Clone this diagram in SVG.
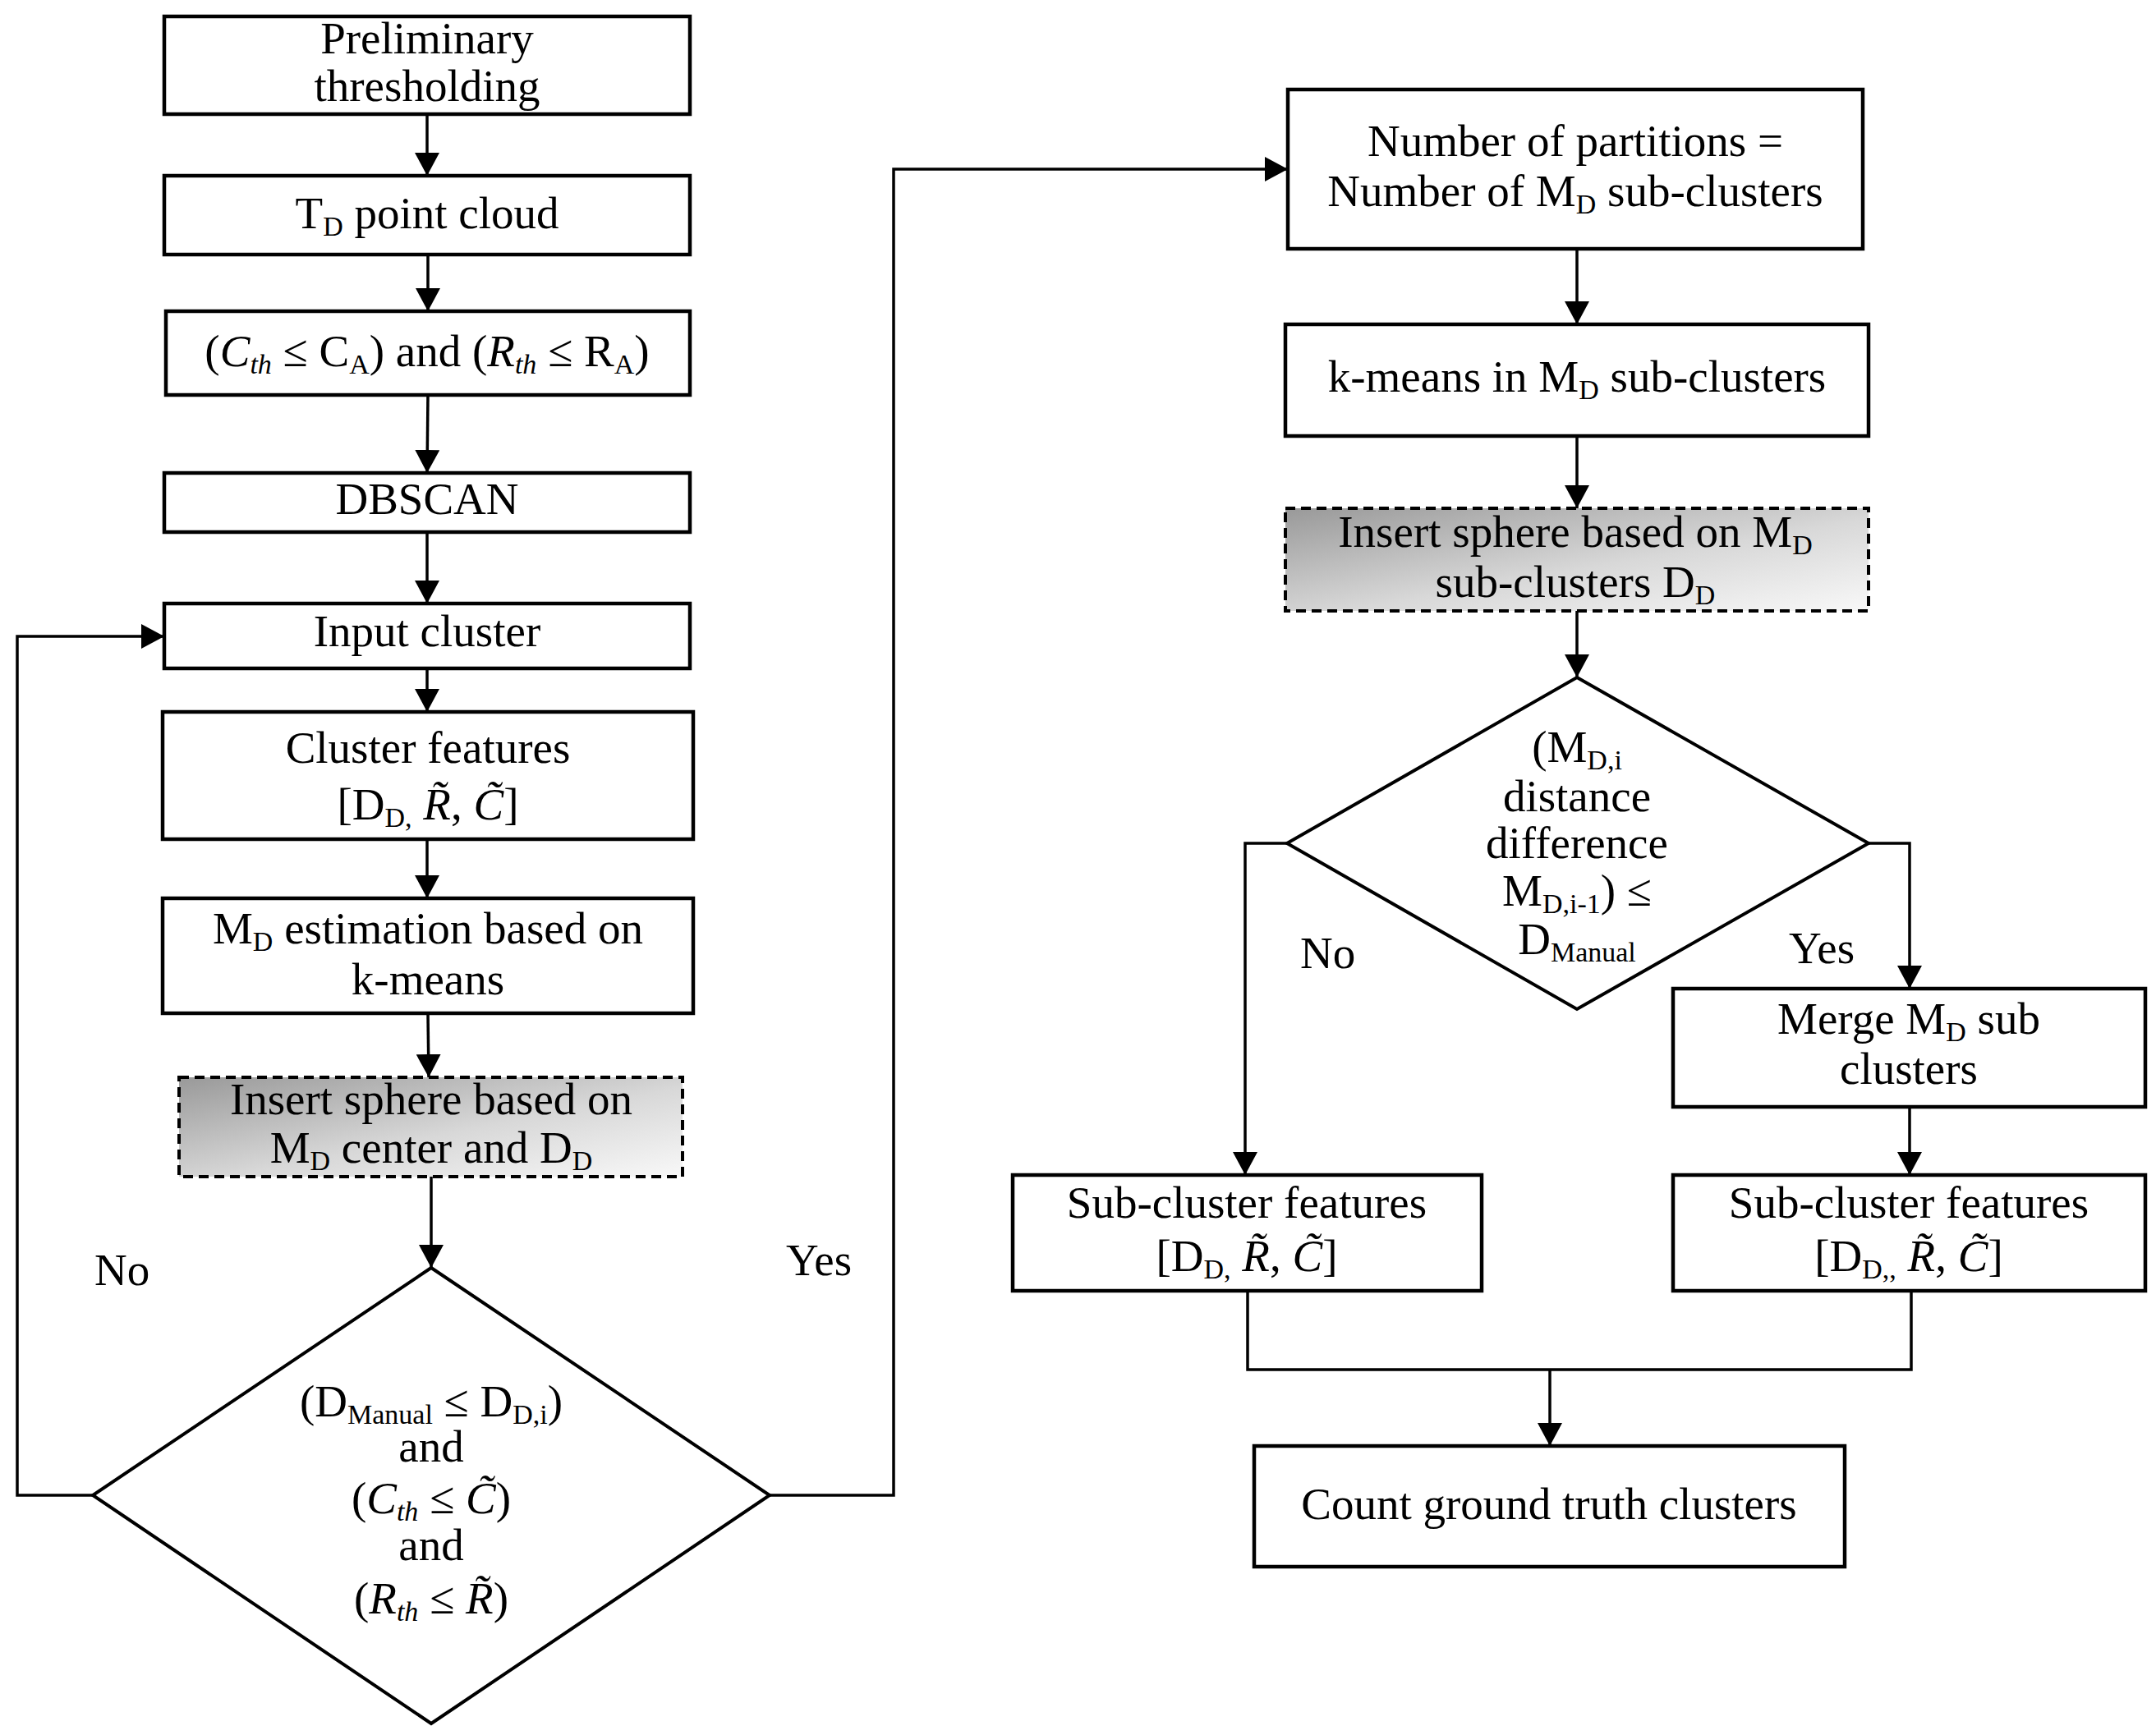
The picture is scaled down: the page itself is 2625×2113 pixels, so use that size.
<svg xmlns="http://www.w3.org/2000/svg" width="2625" height="2113" viewBox="0 0 2625 2113">
<style>
.box{fill:#fff;stroke:#000;stroke-width:4.5}
.dash{fill:url(#g);stroke:#000;stroke-width:4;stroke-dasharray:12 7}
.dia{fill:#fff;stroke:#000;stroke-width:4}
.ln{fill:none;stroke:#000;stroke-width:3.5}
.t{font-family:"Liberation Serif","Times New Roman",serif;font-size:55px;text-anchor:middle;fill:#000}
.l{font-family:"Liberation Serif","Times New Roman",serif;font-size:55px;fill:#000}
.s{font-size:34px}
.i{font-style:italic}
</style>
<defs>
<linearGradient id="g" x1="0" y1="0" x2="1" y2="1">
<stop offset="0" stop-color="#999"/>
<stop offset="0.55" stop-color="#d8d8d8"/>
<stop offset="1" stop-color="#f8f8f8"/>
</linearGradient>
<marker id="a" markerUnits="userSpaceOnUse" markerWidth="28" markerHeight="30" refX="28" refY="15" orient="auto" viewBox="0 0 28 30">
<path d="M0,0 L28,15 L0,30 z" fill="#000"/>
</marker>
</defs>
<rect width="2625" height="2113" fill="#fff"/>

<g id="connectors">
<line class="ln" x1="520" y1="139" x2="520" y2="214" marker-end="url(#a)"/>
<line class="ln" x1="521" y1="310" x2="521" y2="379" marker-end="url(#a)"/>
<line class="ln" x1="521" y1="481" x2="520" y2="576" marker-end="url(#a)"/>
<line class="ln" x1="520" y1="648" x2="520" y2="735" marker-end="url(#a)"/>
<line class="ln" x1="520" y1="814" x2="520" y2="867" marker-end="url(#a)"/>
<line class="ln" x1="520" y1="1022" x2="520" y2="1094" marker-end="url(#a)"/>
<line class="ln" x1="521" y1="1234" x2="522" y2="1312" marker-end="url(#a)"/>
<line class="ln" x1="525" y1="1433" x2="525" y2="1544" marker-end="url(#a)"/>
<path class="ln" d="M113,1821 H21 V775 H200" marker-end="url(#a)"/>
<path class="ln" d="M937,1821 H1088 V206 H1568" marker-end="url(#a)"/>
<line class="ln" x1="1920" y1="303" x2="1920" y2="395" marker-end="url(#a)"/>
<line class="ln" x1="1920" y1="531" x2="1920" y2="619" marker-end="url(#a)"/>
<line class="ln" x1="1920" y1="744" x2="1920" y2="825" marker-end="url(#a)"/>
<path class="ln" d="M1567,1027 H1516 V1431" marker-end="url(#a)"/>
<path class="ln" d="M2275,1027 H2325 V1204" marker-end="url(#a)"/>
<line class="ln" x1="2325" y1="1348" x2="2325" y2="1431" marker-end="url(#a)"/>
<path class="ln" d="M1519,1572 V1668 H2327 V1572"/>
<line class="ln" x1="1887" y1="1668" x2="1887" y2="1761" marker-end="url(#a)"/>
</g>

<g id="n1"><rect class="box" x="200" y="20" width="640" height="119"/>
<text class="t" x="520" y="65">Preliminary</text>
<text class="t" x="520" y="123">thresholding</text></g>

<g id="n2"><rect class="box" x="200" y="214" width="640" height="96"/>
<text class="t" x="520" y="278">T<tspan class="s" dy="9">D</tspan><tspan dy="-9"> point cloud</tspan></text></g>

<g id="n3"><rect class="box" x="202" y="379" width="638" height="102"/>
<text class="t" x="520" y="446">(<tspan class="i">C</tspan><tspan class="s i" dy="9">th</tspan><tspan dy="-9"> ≤ C</tspan><tspan class="s" dy="9">A</tspan><tspan dy="-9">) and (</tspan><tspan class="i">R</tspan><tspan class="s i" dy="9">th</tspan><tspan dy="-9"> ≤ R</tspan><tspan class="s" dy="9">A</tspan><tspan dy="-9">)</tspan></text></g>

<g id="n4"><rect class="box" x="200" y="576" width="640" height="72"/>
<text class="t" x="520" y="626">DBSCAN</text></g>

<g id="n5"><rect class="box" x="200" y="735" width="640" height="79"/>
<text class="t" x="520" y="787">Input cluster</text></g>

<g id="n6"><rect class="box" x="198" y="867" width="646" height="155"/>
<text class="t" x="521" y="929">Cluster features</text>
<text class="t" x="521" y="998">[D<tspan class="s" dy="9">D,</tspan><tspan dy="-9"> </tspan><tspan class="i">R̃</tspan>, <tspan class="i">C̃</tspan>]</text></g>

<g id="n7"><rect class="box" x="198" y="1094" width="646" height="140"/>
<text class="t" x="521" y="1149">M<tspan class="s" dy="9">D</tspan><tspan dy="-9">  estimation based on</tspan></text>
<text class="t" x="521" y="1211">k-means</text></g>

<g id="n8"><rect class="dash" x="218" y="1312" width="613" height="121"/>
<text class="t" x="525" y="1357">Insert sphere based on</text>
<text class="t" x="525" y="1416">M<tspan class="s" dy="9">D</tspan><tspan dy="-9"> center and D</tspan><tspan class="s" dy="9">D</tspan></text></g>

<g id="n9"><polygon class="dia" points="525,1544 937,1821 525,2099 113,1821"/>
<text class="t" x="525" y="1725">(D<tspan class="s" dy="9">Manual</tspan><tspan dy="-9"> ≤ D</tspan><tspan class="s" dy="9">D,i</tspan><tspan dy="-9">)</tspan></text>
<text class="t" x="525" y="1780">and</text>
<text class="t" x="525" y="1843">(<tspan class="i">C</tspan><tspan class="s i" dy="9">th</tspan><tspan dy="-9"> ≤ </tspan><tspan class="i">C̃</tspan>)</text>
<text class="t" x="525" y="1900">and</text>
<text class="t" x="525" y="1965">(<tspan class="i">R</tspan><tspan class="s i" dy="9">th</tspan><tspan dy="-9"> ≤ </tspan><tspan class="i">R̃</tspan>)</text></g>

<g id="lbl1"><text class="l" x="115" y="1565">No</text>
<text class="l" x="957" y="1553">Yes</text></g>

<g id="n10"><rect class="box" x="1568" y="109" width="700" height="194"/>
<text class="t" x="1918" y="190">Number of partitions =</text>
<text class="t" x="1918" y="251">Number of M<tspan class="s" dy="9">D</tspan><tspan dy="-9"> sub-clusters</tspan></text></g>

<g id="n11"><rect class="box" x="1565" y="395" width="710" height="136"/>
<text class="t" x="1920" y="477">k-means in M<tspan class="s" dy="9">D</tspan><tspan dy="-9"> sub-clusters</tspan></text></g>

<g id="n12"><rect class="dash" x="1565" y="619" width="710" height="125"/>
<text class="t" x="1918" y="666">Insert sphere based on M<tspan class="s" dy="9">D</tspan></text>
<text class="t" x="1918" y="727">sub-clusters D<tspan class="s" dy="9">D</tspan></text></g>

<g id="n13"><polygon class="dia" points="1920,825 2275,1027 1920,1229 1567,1027"/>
<text class="t" x="1920" y="928">(M<tspan class="s" dy="9">D,i</tspan></text>
<text class="t" x="1920" y="988">distance</text>
<text class="t" x="1920" y="1045">difference</text>
<text class="t" x="1920" y="1103">M<tspan class="s" dy="9">D,i-1</tspan><tspan dy="-9">) ≤</tspan></text>
<text class="t" x="1920" y="1162">D<tspan class="s" dy="9">Manual</tspan></text></g>

<g id="lbl2"><text class="l" x="1583" y="1179">No</text>
<text class="l" x="2178" y="1173">Yes</text></g>

<g id="n14"><rect class="box" x="2037" y="1204" width="575" height="144"/>
<text class="t" x="2324" y="1259">Merge M<tspan class="s" dy="9">D</tspan><tspan dy="-9"> sub</tspan></text>
<text class="t" x="2324" y="1320">clusters</text></g>

<g id="n15"><rect class="box" x="1233" y="1431" width="571" height="141"/>
<text class="t" x="1518" y="1483">Sub-cluster features</text>
<text class="t" x="1518" y="1548">[D<tspan class="s" dy="9">D,</tspan><tspan dy="-9"> </tspan><tspan class="i">R̃</tspan>, <tspan class="i">C̃</tspan>]</text></g>

<g id="n16"><rect class="box" x="2037" y="1431" width="575" height="141"/>
<text class="t" x="2324" y="1483">Sub-cluster features</text>
<text class="t" x="2324" y="1548">[D<tspan class="s" dy="9">D,,</tspan><tspan dy="-9"> </tspan><tspan class="i">R̃</tspan>, <tspan class="i">C̃</tspan>]</text></g>

<g id="n17"><rect class="box" x="1527" y="1761" width="719" height="147"/>
<text class="t" x="1886" y="1850">Count ground truth clusters</text></g>
</svg>
